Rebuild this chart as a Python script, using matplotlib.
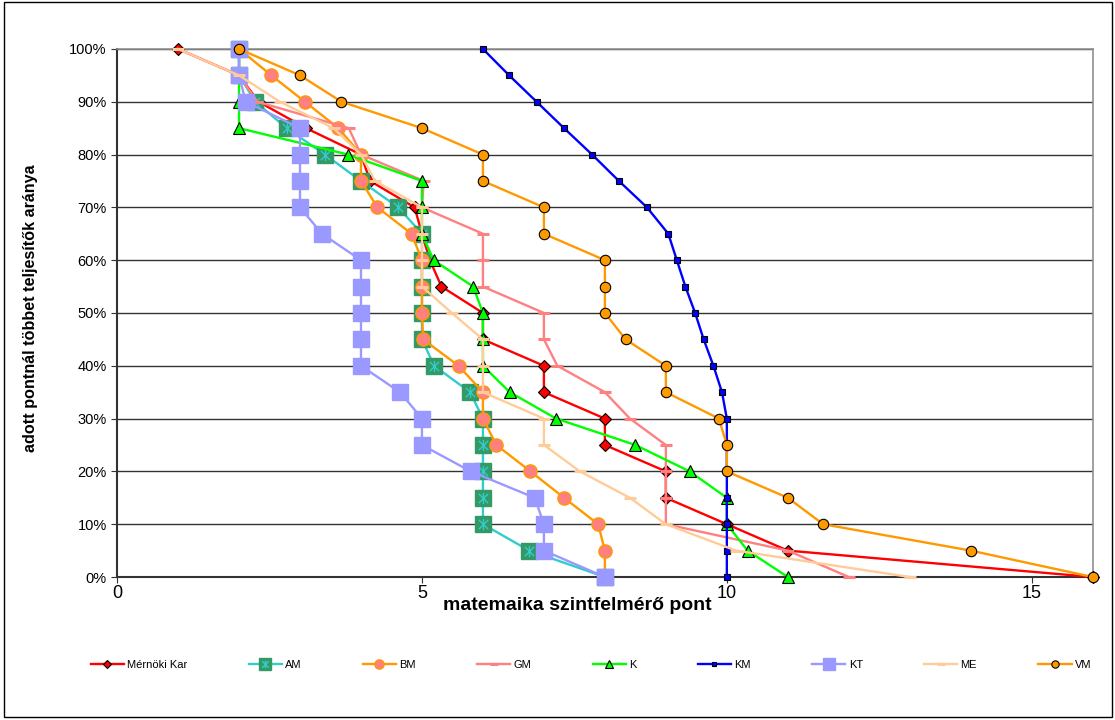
import matplotlib.pyplot as plt
from matplotlib.legend_handler import HandlerTuple
from matplotlib.patches import Rectangle
from matplotlib.path import Path
from matplotlib.ticker import FuncFormatter

plt.rcParams['font.family'] = ['Liberation Sans', 'DejaVu Sans']

# arány (%) - közös y értékek
arany = [100, 95, 90, 85, 80, 75, 70, 65, 60, 55, 50, 45, 40, 35, 30, 25, 20, 15, 10, 5, 0]

# pontszámok sorozatonként
mernoki_kar = [1, 2, 2.32, 3.1, 4, 4.15, 4.88, 5, 5.13, 5.32, 6, 6, 7, 7, 8, 8, 9, 9, 10, 11, 16]
am = [2, 2, 2.27, 2.78, 3.41, 4, 4.61, 5, 5, 5, 5, 5, 5.2, 5.79, 6, 6, 6, 6, 6, 6.76, 8]
bm = [2, 2.53, 3.08, 3.63, 4, 4, 4.27, 4.83, 5, 5, 5, 5.02, 5.6, 6, 6, 6.22, 6.78, 7.33, 7.89, 8, 8]
gm = [2, 2, 2.3, 3.8, 4, 5.03, 5, 6, 6, 6, 7, 7, 7.22, 8, 8.41, 9, 9, 9, 9, 11, 12]
k = [2, 2, 2, 2, 3.79, 5, 5, 5, 5.19, 5.84, 6, 6, 6, 6.44, 7.2, 8.5, 9.39, 10, 10, 10.34, 11]
km = [6, 6.43, 6.88, 7.33, 7.79, 8.23, 8.69, 9.04, 9.18, 9.32, 9.48, 9.62, 9.78, 9.92, 10, 10, 10, 10, 10, 10, 10]
kt = [2, 2, 2.11, 3, 3, 3, 3, 3.36, 4, 4, 4, 4, 4, 4.64, 5, 5, 5.8, 6.85, 7, 7, 8]
me = [1, 2, 2.67, 3.55, 4, 4.23, 5, 5, 5, 5, 5.49, 6, 6, 6, 7, 7, 7.59, 8.41, 9, 10.15, 13]
vm = [2, 3, 3.68, 5, 6, 6, 7, 7, 8, 8, 8, 8.34, 9, 9, 9.87, 10, 10, 11, 11.58, 14, 16]

# csillag marker (X + függőleges vonal) az AM sorozathoz
star = Path([(-1, -1), (1, 1), (-1, 1), (1, -1), (0, -1.2), (0, 1.2)],
            [Path.MOVETO, Path.LINETO, Path.MOVETO, Path.LINETO, Path.MOVETO, Path.LINETO])

fig = plt.figure(figsize=(11.15, 7.2), dpi=100)
ax = fig.add_axes([0.105, 0.1986, 0.875, 0.7334])

lw = 1.7
handles = []
labels = []

h, = ax.plot(mernoki_kar, arany, color='#FF0000', lw=lw, marker='D', ms=6,
             mfc='#FF0000', mec='black', mew=0.8, clip_on=False, zorder=3)
handles.append(h); labels.append('Mérnöki Kar')

h1, = ax.plot(am, arany, color='#33CCCC', lw=lw, marker='s', ms=12,
              mfc='#339966', mec='#339966', clip_on=False, zorder=4)
h2, = ax.plot(am, arany, ls='none', marker=star, ms=8, mfc='none',
              mec='#33CCCC', mew=1, clip_on=False, zorder=4)
handles.append((h1, h2)); labels.append('AM')

h, = ax.plot(bm, arany, color='#FF9900', lw=lw, marker='o', ms=9.5,
             mfc='#FF8080', mec='#FF9900', mew=1, clip_on=False, zorder=5)
handles.append(h); labels.append('BM')

h, = ax.plot(gm, arany, color='#FF8080', lw=lw, marker='_', ms=8,
             mec='#FF8080', mew=2.2, clip_on=False, zorder=6)
handles.append(h); labels.append('GM')

h, = ax.plot(k, arany, color='#00FF00', lw=lw, marker='^', ms=8,
             mfc='#00FF00', mec='black', mew=0.8, clip_on=False, zorder=7)
handles.append(h); labels.append('K')

h, = ax.plot(km, arany, color='#0000FF', lw=lw, marker='s', ms=5,
             mfc='#0000FF', mec='black', mew=0.8, clip_on=False, zorder=8)
handles.append(h); labels.append('KM')

h, = ax.plot(kt, arany, color='#9999FF', lw=lw, marker='s', ms=12,
             mfc='#9999FF', mec='#9999FF', clip_on=False, zorder=9)
handles.append(h); labels.append('KT')

h, = ax.plot(me, arany, color='#FFCC99', lw=lw, marker='_', ms=8,
             mec='#FFCC99', mew=2.2, clip_on=False, zorder=10)
handles.append(h); labels.append('ME')

h, = ax.plot(vm, arany, color='#FF9900', lw=lw, marker='o', ms=7.5,
             mfc='#FF9900', mec='black', mew=0.8, clip_on=False, zorder=11)
handles.append(h); labels.append('VM')

# tengelyek
ax.set_xlim(0, 16)
ax.set_ylim(0, 100)
ax.set_xticks([0, 5, 10, 15])
ax.set_yticks(range(0, 101, 10))
ax.yaxis.set_major_formatter(FuncFormatter(lambda v, p: f'{int(v)}%'))
ax.tick_params(axis='both', direction='out', length=4, color='#333333')
ax.tick_params(axis='y', labelsize=10.5)
ax.tick_params(axis='x', labelsize=13, pad=2)
ax.grid(axis='y', color='#333333', lw=1)
ax.set_axisbelow(True)

for s in ['left', 'bottom']:
    ax.spines[s].set_color('#333333')
    ax.spines[s].set_linewidth(1.5)
for s in ['right', 'top']:
    ax.spines[s].set_color('#909090')
    ax.spines[s].set_linewidth(1.2)

ax.set_xlabel('matemaika szintfelmérő pont', fontsize=14, fontweight='bold', labelpad=0)
ax.xaxis.set_label_coords(0.472, -0.037)
ax.set_ylabel('adott pontnál többet teljesítők aránya', fontsize=11.6, fontweight='bold')
ax.yaxis.set_label_coords(-0.081, 0.51)

fig.legend(handles, labels, loc='center', bbox_to_anchor=(0.530, 0.076), ncol=9,
           frameon=False, fontsize=8, handlelength=3.0, columnspacing=5.5,
           handletextpad=0.3, markerscale=0.7,
           handler_map={tuple: HandlerTuple(ndivide=1)})

# keret a teljes ábra körül
fig.patches.append(Rectangle((0.004, 0.004), 0.993, 0.993, transform=fig.transFigure,
                             fill=False, ec='black', lw=1))

plt.savefig('out.png', dpi=100)
